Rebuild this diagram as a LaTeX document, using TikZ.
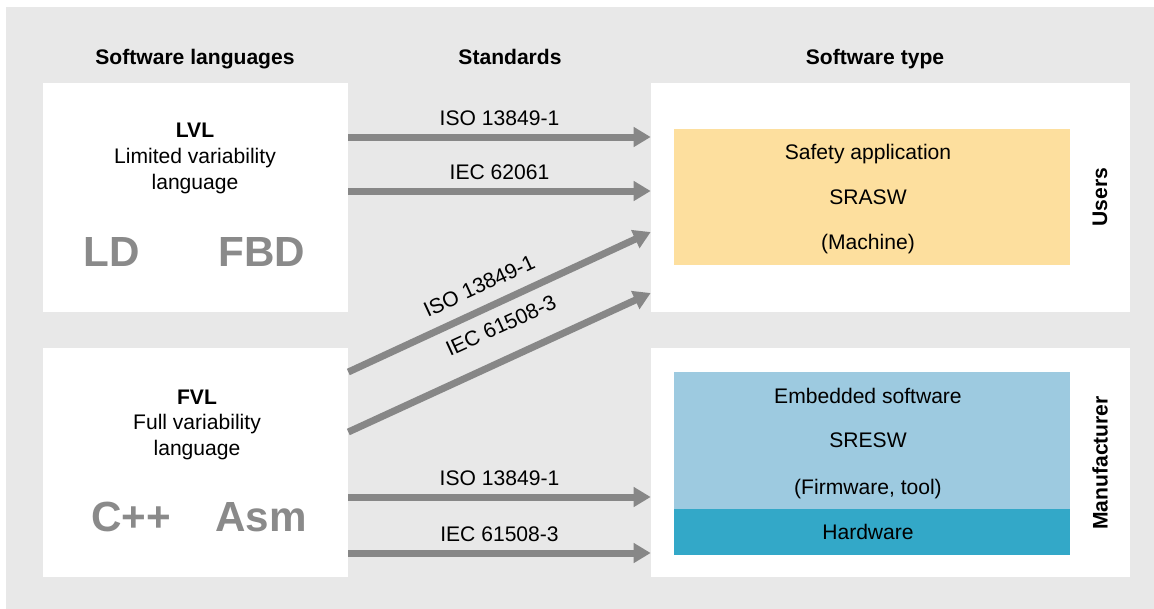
\documentclass[tikz,border=0pt]{standalone}
\usepackage{fontspec}
\setmainfont{Liberation Sans}
\usetikzlibrary{arrows.meta}
\definecolor{bggray}{HTML}{E8E8E8}
\definecolor{arrgray}{HTML}{878787}
\definecolor{biggray}{HTML}{8A8A8A}
\definecolor{sayellow}{HTML}{FDDF9E}
\definecolor{lightblue}{HTML}{9DCAE0}
\definecolor{darkblue}{HTML}{33A8C8}
\tikzset{
  whitebox/.style={fill=white, draw=none, minimum width=#1, minimum height=4.58cm, inner sep=0pt},
  txt/.style={font=\fontsize{12}{14}\selectfont, inner sep=0pt, anchor=center},
  head/.style={font=\fontsize{12}{14}\selectfont\bfseries, inner sep=0pt},
  big/.style={font=\fontsize{24}{28}\selectfont\bfseries, text=biggray, inner sep=0pt},
  conn/.style={draw=arrgray, line width=0.14cm, -{Triangle[length=0.34cm,width=0.38cm]}},
  lbl/.style={font=\fontsize{12}{14}\selectfont, inner sep=0pt, text=black},
}
\begin{document}
\begin{tikzpicture}[x=0.02cm, y=-0.02cm]
\useasboundingbox (0,0) rectangle (1154,609);
\fill[bggray] (6,7) rectangle (1154,609);

% headers
\node[head] (h1) at (195,59) {Software languages};
\node[head] (h2) at (510,57) {Standards};
\node[head] (h3) at (875,59) {Software type};

% left boxes
\node[whitebox=6.1cm] (lvlbox) at (195.5,197.5) {};
\node[whitebox=6.1cm] (fvlbox) at (195.5,462.5) {};
% right boxes
\node[whitebox=9.58cm] (userbox) at (890.5,197.5) {};
\node[whitebox=9.58cm] (manubox) at (890.5,462.5) {};

% colored areas
\node[fill=sayellow, minimum width=7.92cm, minimum height=2.72cm, inner sep=0pt] (sa) at (872,197) {};
\node[fill=lightblue, minimum width=7.92cm, minimum height=2.74cm, inner sep=0pt] (es) at (872,440.5) {};
\node[fill=darkblue, minimum width=7.92cm, minimum height=0.92cm, inner sep=0pt] (hw) at (872,532) {};

% left texts
\node[head] (lvl) at (195,130) {LVL};
\node[txt] (lvl2) at (195,158) {Limited variability};
\node[txt] (lvl3) at (195,184) {language};
\node[big] (ld) at (112,252) {LD};
\node[big] (fbd) at (262,252) {FBD};

\node[head] (fvl) at (197,397) {FVL};
\node[txt] (fvl2) at (197,424) {Full variability};
\node[txt] (fvl3) at (197,450) {language};
\node[big] (cpp) at (131,517) {C++};
\node[big] (asm) at (261,517) {Asm};

% right texts
\node[txt] (sa1) at (868,154) {Safety application};
\node[txt] (sa2) at (868,197) {SRASW};
\node[txt] (sa3) at (868,244) {(Machine)};
\node[txt] (es1) at (868,396) {Embedded software};
\node[txt] (es2) at (868,440) {SRESW};
\node[txt] (es3) at (868,489) {(Firmware, tool)};
\node[txt] (hw1) at (868,532) {Hardware};

\node[head, rotate=90] (users) at (1100,197) {Users};
\node[head, rotate=90] (manu) at (1100,463) {Manufacturer};

% connector end points
\coordinate (s1) at (lvlbox.east |- 0,137);
\coordinate (e1) at (userbox.west |- 0,137);
\coordinate (s2) at (lvlbox.east |- 0,191);
\coordinate (e2) at (userbox.west |- 0,191);
\coordinate (s3) at (fvlbox.east |- 0,372);
\coordinate (e3) at (userbox.west |- 0,232);
\coordinate (s4) at (fvlbox.east |- 0,432);
\coordinate (e4) at (userbox.west |- 0,293);
\coordinate (s5) at (fvlbox.east |- 0,497);
\coordinate (e5) at (manubox.west |- 0,497);
\coordinate (s6) at (fvlbox.east |- 0,553);
\coordinate (e6) at (manubox.west |- 0,553);

\draw[conn] (s1) -- node[lbl, above=4.5pt, pos=0.5] {ISO 13849-1} (e1);
\draw[conn] (s2) -- node[lbl, above=4.5pt, pos=0.5] {IEC 62061} (e2);
\draw[conn] (s3) -- node[lbl, sloped, above=7pt, pos=0.465] {ISO 13849-1} (e3);
\draw[conn] (s4) -- node[lbl, sloped, above=12.5pt, pos=0.55] {IEC 61508-3} (e4);
\draw[conn] (s5) -- node[lbl, above=4.5pt, pos=0.5] {ISO 13849-1} (e5);
\draw[conn] (s6) -- node[lbl, above=4.5pt, pos=0.5] {IEC 61508-3} (e6);
\end{tikzpicture}
\end{document}
